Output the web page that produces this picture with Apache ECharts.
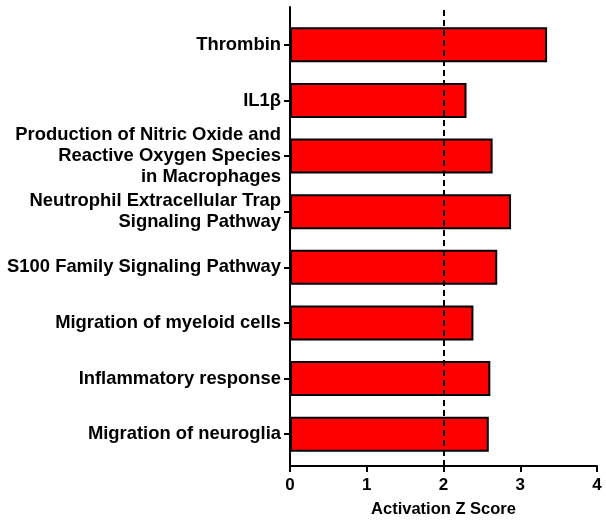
<!DOCTYPE html>
<html><head><meta charset="utf-8">
<script src="https://cdn.jsdelivr.net/npm/echarts@6/dist/echarts.min.js"></script>
<style>html,body{margin:0;padding:0;background:#fff}#c{width:606px;height:523px}</style>
</head><body><div id="c"></div>
<script>
const categories = [
  "Thrombin",
  "IL1β",
  "Production of Nitric Oxide and\nReactive Oxygen Species\nin Macrophages",
  "Neutrophil Extracellular Trap\nSignaling Pathway",
  "S100 Family Signaling Pathway",
  "Migration of myeloid cells",
  "Inflammatory response",
  "Migration of neuroglia"
];
const zScores = [3.35, 2.30, 2.64, 2.88, 2.70, 2.39, 2.61, 2.59];
const threshold = 2;
const xTicks = [0, 1, 2, 3, 4];

const font = "'Liberation Sans', Arial, sans-serif";
const chart = echarts.init(document.getElementById('c'), null, {renderer: 'canvas'});
chart.setOption({
  animation: false,
  grid: [
    {left: 290, right: 9, top: 17, bottom: 61},
    {left: 290, right: 9, top: 7, bottom: 53}
  ],
  xAxis: [
    {gridIndex: 0, type: 'value', min: xTicks[0], max: xTicks[xTicks.length-1], show: false},
    {gridIndex: 1, type: 'value', min: xTicks[0], max: xTicks[xTicks.length-1], interval: 1,
     axisLine: {show: true, lineStyle: {color: '#000', width: 2}},
     axisTick: {show: true, length: 6, lineStyle: {color: '#000', width: 2}},
     splitLine: {show: false},
     axisLabel: {margin: 11, color: '#000', fontFamily: font, fontWeight: 'bold', fontSize: 17},
     name: 'Activation Z Score', nameLocation: 'middle', nameGap: 35,
     nameTextStyle: {color: '#000', fontFamily: font, fontWeight: 'bold', fontSize: 16.5}}
  ],
  yAxis: [
    {gridIndex: 0, type: 'category', data: categories, inverse: true,
     axisLine: {show: false},
     axisTick: {show: true, alignWithLabel: true, length: 6, lineStyle: {color: '#000', width: 2}},
     axisLabel: {margin: 9, color: '#000', fontFamily: font, fontWeight: 'bold', fontSize: 18.4, lineHeight: 21, align: 'right'}},
    {gridIndex: 1, type: 'value', min: 0, max: 1,
     axisLine: {show: true, onZero: false, lineStyle: {color: '#000', width: 2}},
     axisTick: {show: false}, axisLabel: {show: false}, splitLine: {show: false}}
  ],
  series: [
    {type: 'bar', xAxisIndex: 0, yAxisIndex: 0, data: zScores, barWidth: 35,
     itemStyle: {color: '#ff0000', borderColor: '#000', borderWidth: 2}},
    {type: 'line', xAxisIndex: 1, yAxisIndex: 1, data: [], silent: true,
     markLine: {symbol: 'none', silent: true, label: {show: false},
       lineStyle: {color: '#000', type: [6, 4], width: 2},
       data: [{xAxis: threshold}]}}
  ]
});
</script></body></html>
